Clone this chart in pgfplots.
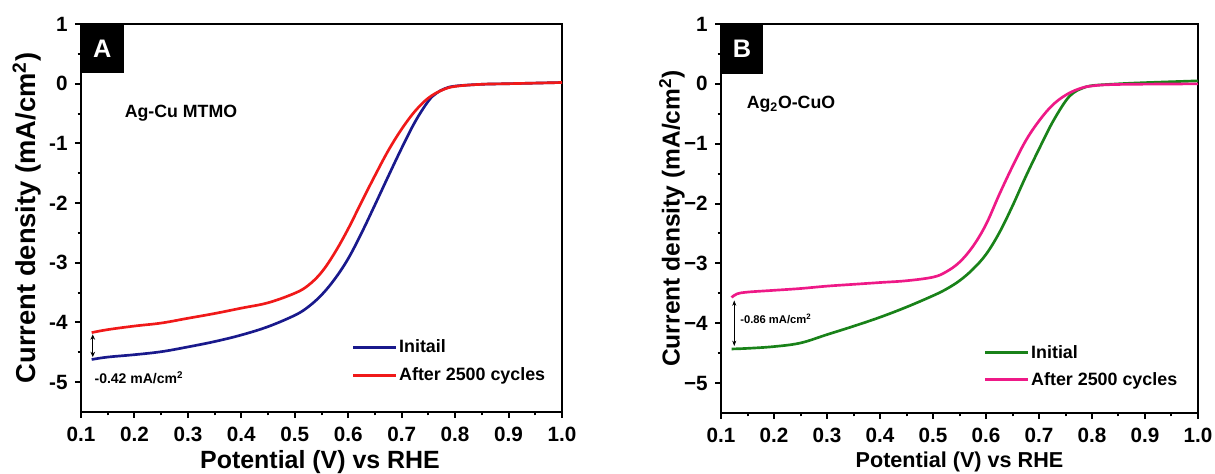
\documentclass[border=0pt]{standalone}
\usepackage{pgfplots}
\pgfplotsset{compat=1.18}
\usepackage{fontspec}
\setmainfont{Liberation Sans}
\usetikzlibrary{arrows.meta}
\definecolor{cblue}{RGB}{25,25,140}
\definecolor{cred}{RGB}{240,25,25}
\definecolor{cgreen}{RGB}{25,130,25}
\definecolor{cpink}{RGB}{238,25,135}

\pgfplotstableread{
x y
0.12 -4.62
0.15 -4.58
0.2 -4.54
0.25 -4.49
0.3 -4.41
0.35 -4.32
0.4 -4.21
0.45 -4.07
0.5 -3.88
0.525 -3.74
0.55 -3.54
0.575 -3.27
0.6 -2.93
0.625 -2.50
0.65 -2.03
0.675 -1.55
0.7 -1.08
0.725 -0.64
0.75 -0.29
0.765 -0.16
0.78 -0.085
0.8 -0.04
0.85 -0.01
0.9 0.0
1.0 0.02
}\dataAinit
\pgfplotstableread{
x y
0.12 -4.17
0.15 -4.12
0.2 -4.06
0.25 -4.01
0.3 -3.93
0.35 -3.85
0.4 -3.76
0.45 -3.67
0.5 -3.51
0.525 -3.38
0.55 -3.16
0.575 -2.83
0.6 -2.43
0.625 -1.98
0.65 -1.54
0.675 -1.12
0.7 -0.76
0.725 -0.46
0.75 -0.24
0.775 -0.11
0.8 -0.045
0.85 -0.01
0.9 0.0
1.0 0.02
}\dataAafter
\pgfplotstableread{
x y
0.12 -4.43
0.15 -4.42
0.2 -4.39
0.25 -4.33
0.3 -4.19
0.35 -4.05
0.4 -3.90
0.45 -3.73
0.5 -3.54
0.525 -3.43
0.55 -3.29
0.575 -3.10
0.6 -2.85
0.625 -2.49
0.65 -2.04
0.675 -1.55
0.7 -1.09
0.725 -0.65
0.75 -0.29
0.765 -0.15
0.78 -0.08
0.8 -0.03
0.85 0.0
0.9 0.02
1.0 0.05
}\dataBinit
\pgfplotstableread{
x y
0.12 -3.57
0.13 -3.51
0.15 -3.48
0.2 -3.45
0.25 -3.42
0.3 -3.38
0.35 -3.35
0.4 -3.32
0.45 -3.29
0.5 -3.23
0.525 -3.14
0.55 -2.98
0.575 -2.72
0.6 -2.35
0.625 -1.85
0.65 -1.38
0.675 -0.95
0.7 -0.62
0.725 -0.36
0.75 -0.19
0.775 -0.085
0.8 -0.035
0.85 -0.01
1.0 0.0
}\dataBafter

\pgfplotsset{
  myaxis/.style={
    scale only axis,
    anchor=south west,
    xmin=0.1, xmax=1.0, ymin=-5.5, ymax=1,
    xtick={0.1,0.2,...,1.0},
    xticklabels={0.1,0.2,0.3,0.4,0.5,0.6,0.7,0.8,0.9,1.0},
    ytick={-5,-4,...,1},
    minor x tick num=1, minor y tick num=1,
    tick align=outside, xtick pos=left, ytick pos=left,
    major tick length=4.5pt, minor tick length=2.6pt,
    every tick/.style={black, line width=1.5pt},
    axis line style={line width=1.9pt},
    tick label style={font=\fontsize{15.5}{18}\selectfont\bfseries},
    xticklabel style={yshift=-3pt},
    yticklabel style={xshift=-2pt},
    legend cell align=left,
    legend image code/.code={\draw[#1, line width=2.2pt] (0pt,0pt) -- (32pt,0pt);},
    clip=false,
  },
  curve/.style={line width=2pt, smooth, tension=0.6},
}

\begin{document}
\begin{tikzpicture}
\useasboundingbox (0,0) rectangle (911.25pt,355.5pt);
% Panel A
\begin{axis}[myaxis,
  at={(60.75pt,46.5pt)}, width=360.75pt, height=291pt,
  yticklabels={-5,-4,-3,-2,-1,0,1},
  xlabel={\bfseries Potential (V) vs RHE},
  ylabel={\bfseries Current density (mA/cm\textsuperscript{2})},
  xlabel style={font=\fontsize{18.7}{22}\selectfont, at={(axis description cs:0.497,-0.129)}, anchor=center},
  ylabel style={font=\fontsize{20.5}{24}\selectfont, at={(axis description cs:-0.112,0.5)}, anchor=center},
  legend style={draw=none, fill=none, at={(rel axis cs:0.562,0.192)}, anchor=north west,
    font=\fontsize{13.4}{16}\selectfont\bfseries, row sep=7pt, inner sep=0pt,
    nodes={inner sep=1.5pt}},
]
\fill[black] (axis cs:0.1,1) rectangle (axis cs:0.18,0.172);
\node[white, font=\fontsize{19}{22}\selectfont\bfseries] at (axis cs:0.14,0.586) {A};
\addplot[cblue, curve] table {\dataAinit};
\addplot[cred, curve] table {\dataAafter};
\legend{Initail, After 2500 cycles}
\node[font=\fontsize{13.3}{16}\selectfont\bfseries] at (axis cs:0.287,-0.5) {Ag-Cu MTMO};
\draw[{Stealth[length=4pt,width=3.5pt]}-{Stealth[length=4pt,width=3.5pt]}, line width=0.6pt] (axis cs:0.122,-4.20) -- (axis cs:0.122,-4.58);
\node[anchor=west, font=\fontsize{10.5}{12}\selectfont\bfseries, inner sep=0pt] at (axis cs:0.125,-4.93) {-0.42 mA/cm\textsuperscript{2}};
\end{axis}
% Panel B
\begin{axis}[myaxis,
  at={(540.75pt,45.75pt)}, width=357.75pt, height=291.75pt,
  yticklabels={−5,−4,−3,−2,−1,0,1},
  xlabel={\bfseries Potential (V) vs RHE},
  ylabel={\bfseries Current density (mA/cm\textsuperscript{2})},
  xlabel style={font=\fontsize{16.2}{19}\selectfont, at={(axis description cs:0.5,-0.126)}, anchor=center},
  ylabel style={font=\fontsize{18.4}{22}\selectfont, at={(axis description cs:-0.103,0.5)}, anchor=center},
  legend style={draw=none, fill=none, at={(rel axis cs:0.550,0.180)}, anchor=north west,
    font=\fontsize{13.4}{16}\selectfont\bfseries, row sep=6pt, inner sep=0pt,
    nodes={inner sep=1.5pt}},
]
\fill[black] (axis cs:0.1,1) rectangle (axis cs:0.179,0.17);
\node[white, font=\fontsize{19}{22}\selectfont\bfseries] at (axis cs:0.1395,0.585) {B};
\addplot[cgreen, curve] table {\dataBinit};
\addplot[cpink, curve] table {\dataBafter};
\legend{Initial, After 2500 cycles}
\node[font=\fontsize{13.3}{16}\selectfont\bfseries] at (axis cs:0.232,-0.345) {Ag\textsubscript{2}O-CuO};
\draw[{Stealth[length=4pt,width=3pt]}-{Stealth[length=4pt,width=3pt]}, line width=0.4pt] (axis cs:0.125,-3.62) -- (axis cs:0.125,-4.38);
\node[anchor=west, font=\fontsize{8.4}{10}\selectfont\bfseries, inner sep=0pt] at (axis cs:0.136,-3.93) {-0.86 mA/cm\textsuperscript{2}};
\end{axis}
\end{tikzpicture}
\end{document}
